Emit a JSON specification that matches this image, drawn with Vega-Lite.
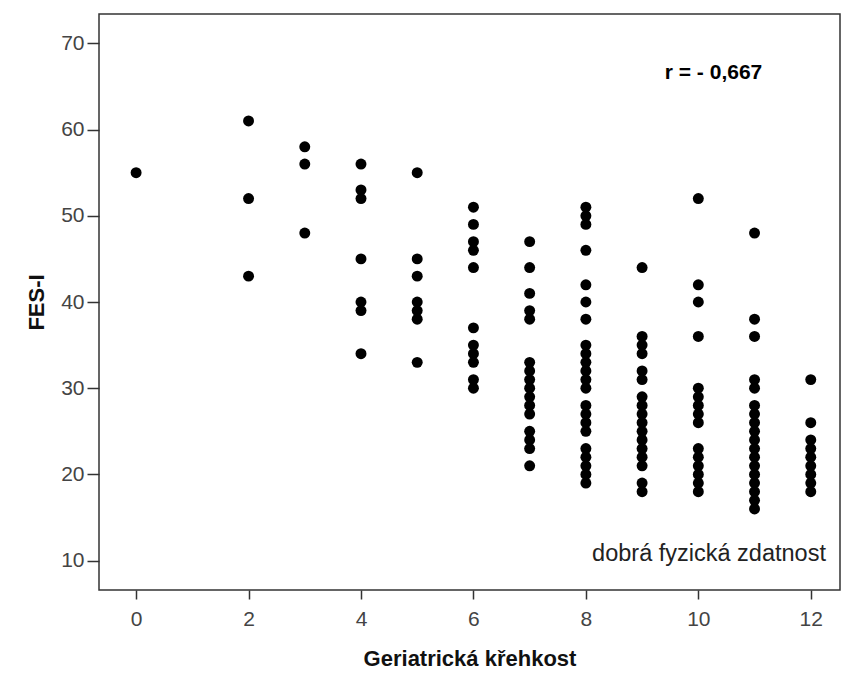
{
  "$schema": "https://vega.github.io/schema/vega-lite/v6.json",
  "width": 741,
  "height": 576,
  "autosize": {"type": "none"},
  "padding": {"left": 99, "top": 14, "right": 1, "bottom": 90},
  "background": "white",
  "config": {
    "view": {"stroke": "#333333", "strokeWidth": 1.5},
    "font": "Liberation Sans",
    "axis": {
      "grid": false,
      "domain": false,
      "tickColor": "#333333",
      "tickWidth": 1.5,
      "labelFont": "Liberation Sans",
      "labelFontSize": 21,
      "labelColor": "#444444",
      "titleFont": "Liberation Sans",
      "titleFontSize": 22,
      "titleFontWeight": "bold",
      "titleColor": "#111111"
    }
  },
  "datasets": {
    "points": [
      {"k": 0, "f": 55},
      {"k": 2, "f": 61}, {"k": 2, "f": 52}, {"k": 2, "f": 43},
      {"k": 3, "f": 58}, {"k": 3, "f": 56}, {"k": 3, "f": 48},
      {"k": 4, "f": 56}, {"k": 4, "f": 53}, {"k": 4, "f": 52}, {"k": 4, "f": 45}, {"k": 4, "f": 40}, {"k": 4, "f": 39}, {"k": 4, "f": 34},
      {"k": 5, "f": 55}, {"k": 5, "f": 45}, {"k": 5, "f": 43}, {"k": 5, "f": 40}, {"k": 5, "f": 39}, {"k": 5, "f": 38}, {"k": 5, "f": 33},
      {"k": 6, "f": 51}, {"k": 6, "f": 49}, {"k": 6, "f": 47}, {"k": 6, "f": 46}, {"k": 6, "f": 44}, {"k": 6, "f": 37}, {"k": 6, "f": 35}, {"k": 6, "f": 34}, {"k": 6, "f": 33}, {"k": 6, "f": 31}, {"k": 6, "f": 30},
      {"k": 7, "f": 47}, {"k": 7, "f": 44}, {"k": 7, "f": 41}, {"k": 7, "f": 39}, {"k": 7, "f": 38}, {"k": 7, "f": 33}, {"k": 7, "f": 32}, {"k": 7, "f": 31}, {"k": 7, "f": 30}, {"k": 7, "f": 29}, {"k": 7, "f": 28}, {"k": 7, "f": 27}, {"k": 7, "f": 25}, {"k": 7, "f": 24}, {"k": 7, "f": 23}, {"k": 7, "f": 21},
      {"k": 8, "f": 51}, {"k": 8, "f": 50}, {"k": 8, "f": 49}, {"k": 8, "f": 46}, {"k": 8, "f": 42}, {"k": 8, "f": 40}, {"k": 8, "f": 38}, {"k": 8, "f": 35}, {"k": 8, "f": 34}, {"k": 8, "f": 33}, {"k": 8, "f": 32}, {"k": 8, "f": 31}, {"k": 8, "f": 30}, {"k": 8, "f": 28}, {"k": 8, "f": 27}, {"k": 8, "f": 26}, {"k": 8, "f": 25}, {"k": 8, "f": 23}, {"k": 8, "f": 22}, {"k": 8, "f": 21}, {"k": 8, "f": 20}, {"k": 8, "f": 19},
      {"k": 9, "f": 44}, {"k": 9, "f": 36}, {"k": 9, "f": 35}, {"k": 9, "f": 34}, {"k": 9, "f": 32}, {"k": 9, "f": 31}, {"k": 9, "f": 29}, {"k": 9, "f": 28}, {"k": 9, "f": 27}, {"k": 9, "f": 26}, {"k": 9, "f": 25}, {"k": 9, "f": 24}, {"k": 9, "f": 23}, {"k": 9, "f": 22}, {"k": 9, "f": 21}, {"k": 9, "f": 19}, {"k": 9, "f": 18},
      {"k": 10, "f": 52}, {"k": 10, "f": 42}, {"k": 10, "f": 40}, {"k": 10, "f": 36}, {"k": 10, "f": 30}, {"k": 10, "f": 29}, {"k": 10, "f": 28}, {"k": 10, "f": 27}, {"k": 10, "f": 26}, {"k": 10, "f": 23}, {"k": 10, "f": 22}, {"k": 10, "f": 21}, {"k": 10, "f": 20}, {"k": 10, "f": 19}, {"k": 10, "f": 18},
      {"k": 11, "f": 48}, {"k": 11, "f": 38}, {"k": 11, "f": 36}, {"k": 11, "f": 31}, {"k": 11, "f": 30}, {"k": 11, "f": 28}, {"k": 11, "f": 27}, {"k": 11, "f": 26}, {"k": 11, "f": 25}, {"k": 11, "f": 24}, {"k": 11, "f": 23}, {"k": 11, "f": 22}, {"k": 11, "f": 21}, {"k": 11, "f": 20}, {"k": 11, "f": 19}, {"k": 11, "f": 18}, {"k": 11, "f": 17}, {"k": 11, "f": 16},
      {"k": 12, "f": 31}, {"k": 12, "f": 26}, {"k": 12, "f": 24}, {"k": 12, "f": 23}, {"k": 12, "f": 22}, {"k": 12, "f": 21}, {"k": 12, "f": 20}, {"k": 12, "f": 19}, {"k": 12, "f": 18}
    ],
    "rlabel": [{"k": 10.27, "f": 66.5, "t": "r = - 0,667"}],
    "dlabel": [{"k": 12.27, "f": 10.8, "t": "dobrá fyzická zdatnost"}]
  },
  "layer": [
    {
      "data": {"name": "points"},
      "mark": {"type": "circle", "size": 120, "color": "black", "opacity": 1},
      "encoding": {
        "x": {
          "field": "k", "type": "quantitative",
          "scale": {"domain": [-0.66, 12.52], "nice": false, "zero": false},
          "axis": {"values": [0, 2, 4, 6, 8, 10, 12], "format": "d", "tickSize": 9, "labelPadding": 9, "title": "Geriatrická křehkost", "titlePadding": 19}
        },
        "y": {
          "field": "f", "type": "quantitative",
          "scale": {"domain": [6.6, 73.4], "nice": false, "zero": false},
          "axis": {"values": [10, 20, 30, 40, 50, 60, 70], "format": "d", "tickSize": 12, "labelPadding": 3, "title": "FES-I", "titlePadding": 12}
        }
      }
    },
    {
      "data": {"name": "rlabel"},
      "mark": {"type": "text", "fontSize": 21, "fontWeight": "bold", "color": "black", "align": "center", "baseline": "middle"},
      "encoding": {
        "x": {"field": "k", "type": "quantitative"},
        "y": {"field": "f", "type": "quantitative"},
        "text": {"field": "t"}
      }
    },
    {
      "data": {"name": "dlabel"},
      "mark": {"type": "text", "fontSize": 23.5, "color": "#222222", "align": "right", "baseline": "middle"},
      "encoding": {
        "x": {"field": "k", "type": "quantitative"},
        "y": {"field": "f", "type": "quantitative"},
        "text": {"field": "t"}
      }
    }
  ]
}
